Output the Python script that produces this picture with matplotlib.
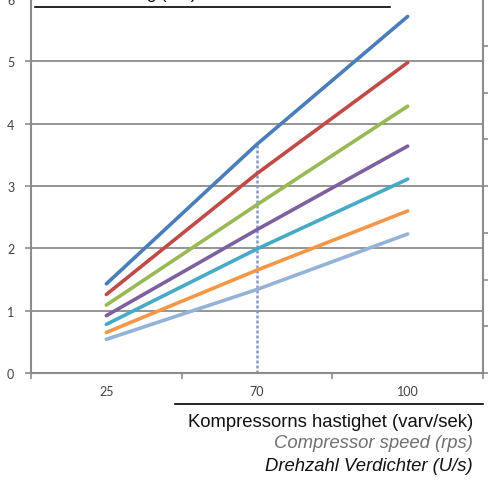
import matplotlib
matplotlib.use("Agg")
import matplotlib.pyplot as plt
from matplotlib.patches import Rectangle
from matplotlib.lines import Line2D

speeds = ["25", "70", "100"]
series_colors = ["#4a7ebb", "#be4b48", "#98b954", "#7d60a0", "#46aac5", "#f79646", "#95b3d7"]
series_values = [
    [1.43, 3.67, 5.72],
    [1.26, 3.20, 4.98],
    [1.09, 2.70, 4.28],
    [0.92, 2.30, 3.64],
    [0.78, 1.99, 3.11],
    [0.65, 1.65, 2.60],
    [0.54, 1.34, 2.23],
]
y_ticks = [0, 1, 2, 3, 4, 5, 6]

W, H = 489, 481
fig = plt.figure(figsize=(W / 100, H / 100), dpi=100)
ax = fig.add_axes([31 / W, 1 - 374 / H, (483 - 31) / W, 374 / H])

grid_c = "#8c8c8c"
x = list(range(len(speeds)))

for yv in y_ticks:
    ax.axhline(yv, color=grid_c, lw=1.3, zorder=1)

# drop line at 70
ax.vlines(1, 0, series_values[0][1], colors="#8a97c0", lw=1.8, linestyles=(0, (1.2, 0.8)), zorder=2)

for vals, c in zip(series_values, series_colors):
    ax.plot(x, vals, color=c, lw=2.6, solid_capstyle="round", zorder=3)

ax.set_xlim(-0.5, 2.5)
ax.set_ylim(0, 6)
ax.set_yticks(y_ticks)
ax.set_xticks([-0.5, 0.5, 1.5, 2.5])
ax.set_xticklabels([])
ax.set_xticks(x, minor=True)
ax.set_xticklabels(speeds, minor=True)
ax.tick_params(axis="x", which="major", length=4, color=grid_c, width=1.2, direction="out")
ax.tick_params(axis="x", which="minor", length=0, pad=9, labelsize=9, labelcolor="#404040")
ax.tick_params(axis="y", length=4, color=grid_c, width=1.2, direction="out", pad=8,
               labelsize=9, labelcolor="#404040")
for lab in ax.get_xticklabels(minor=True) + ax.get_yticklabels():
    lab.set_family("Lato")

for s in ["top", "right"]:
    ax.spines[s].set_visible(False)
ax.spines["left"].set_color(grid_c)
ax.spines["left"].set_linewidth(1.5)
ax.spines["bottom"].set_color(grid_c)
ax.spines["bottom"].set_linewidth(1.5)

# secondary axis on the right, labels cut off
ax2 = ax.twinx()
ax2.set_ylim(0, 8)
ax2.set_yticks(range(9))
ax2.set_yticklabels([])
for s in ["top", "left", "bottom"]:
    ax2.spines[s].set_visible(False)
ax2.spines["right"].set_color(grid_c)
ax2.spines["right"].set_linewidth(1.5)
ax2.tick_params(axis="y", length=4, color=grid_c, width=1.2, direction="out")

# title box at top, mostly cut off
fig.add_artist(Rectangle((35 / W, 1 - 8 / H), (390 - 35) / W, 10 / H,
                         transform=fig.transFigure, facecolor="white", edgecolor="none", zorder=5))
fig.add_artist(Line2D([35 / W, 390 / W], [1 - 8 / H, 1 - 8 / H], transform=fig.transFigure,
                      color="black", lw=1.2, zorder=6))
fig.text(196 / W, 1 + 1 / H, "Strömförbrukning (kW)", ha="right", va="baseline",
         fontsize=12, family="Liberation Sans", zorder=7)

# x axis title block
fig.add_artist(Line2D([175 / W, 483 / W], [1 - 405 / H, 1 - 405 / H], transform=fig.transFigure,
                      color="black", lw=1.2))
fig.text(473 / W, 1 - 423 / H, "Kompressorns hastighet (varv/sek)", ha="right", va="center",
         fontsize=13.3, family="Liberation Sans", color="#111111")
fig.text(473 / W, 1 - 444 / H, "Compressor speed (rps)", ha="right", va="center",
         fontsize=13.3, family="Liberation Sans", style="italic", color="#707070")
fig.text(473 / W, 1 - 467 / H, "Drehzahl Verdichter (U/s)", ha="right", va="center",
         fontsize=13.3, family="Liberation Sans", style="italic", color="#111111")

fig.savefig("out.png", dpi=100)
